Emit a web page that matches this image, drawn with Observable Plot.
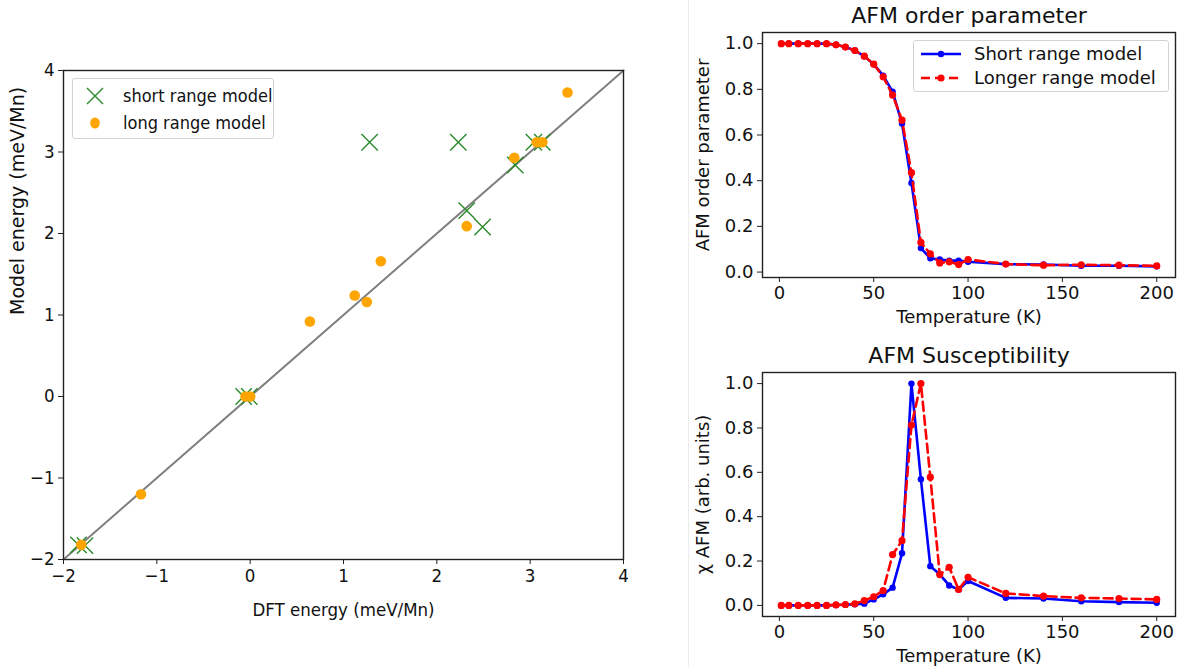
<!DOCTYPE html>
<html><head><meta charset="utf-8">
<script src="https://cdn.jsdelivr.net/npm/d3@7"></script>
<script src="https://cdn.jsdelivr.net/npm/@observablehq/plot@0.6"></script>
<style>
body{margin:0;background:#fff;font-family:"DejaVu Sans",sans-serif;}
#wrap{position:relative;width:1182px;height:667px;overflow:hidden;background:#fff;}
.panel{position:absolute;}
.sep{position:absolute;left:688px;top:0;width:1px;height:667px;background:#ececec;}
.legend{position:absolute;background:rgba(255,255,255,0.85);border:1px solid #d2d2d2;border-radius:3px;box-sizing:border-box;color:#111;}
.legend .item{position:absolute;white-space:nowrap;display:flex;align-items:center;}
.legend svg{position:absolute;overflow:visible;}
</style>
</head><body>
<div id="wrap"><div class="sep"></div></div>
<script>
// ---------- Left panel data (DFT vs model energy) ----------
const shortX = [-1.84, -1.77, -0.07, -0.01, 1.28, 2.23, 3.04, 3.13, 2.84, 2.32, 2.49];
const shortY = [-1.82, -1.83, 0.00, 0.00, 3.12, 3.12, 3.12, 3.12, 2.84, 2.28, 2.08];
const longX = [-1.81, -1.17, -0.05, 0.00, 0.64, 1.12, 1.25, 1.40, 2.32, 2.83, 3.07, 3.13, 3.40];
const longY = [-1.82, -1.20, 0.00, 0.00, 0.92, 1.24, 1.16, 1.66, 2.09, 2.93, 3.12, 3.12, 3.73];
const diagX = [-2, 4];
const energyTicks = [-2, -1, 0, 1, 2, 3, 4];
const scatterLegend = ["short range model", "long range model"];

// ---------- Right panels data ----------
const temps = [1,5,10,15,20,25,30,35,40,45,50,55,60,65,70,75,80,85,90,95,100,120,140,160,180,200];
const orderShort = [1.0,1.0,1.0,1.0,1.0,1.0,0.995,0.985,0.97,0.945,0.91,0.86,0.79,0.65,0.39,0.105,0.06,0.055,0.05,0.05,0.045,0.035,0.033,0.028,0.028,0.025];
const orderLong  = [1.0,1.0,1.0,1.0,1.0,1.0,0.995,0.985,0.97,0.945,0.91,0.855,0.775,0.665,0.435,0.13,0.08,0.04,0.045,0.033,0.055,0.035,0.03,0.032,0.03,0.027];
const susShort = [0,0,0,0,0,0,0.002,0.003,0.005,0.008,0.027,0.05,0.08,0.235,1.0,0.569,0.177,0.14,0.09,0.072,0.11,0.034,0.031,0.019,0.015,0.012];
const susLong  = [0,0,0,0,0,0,0.002,0.004,0.007,0.022,0.039,0.067,0.229,0.292,0.813,1.0,0.578,0.139,0.172,0.072,0.127,0.054,0.042,0.034,0.031,0.027];
const tempTicks = [0, 50, 100, 150, 200];
const fracTicks = [0, 0.2, 0.4, 0.6, 0.8, 1.0];
const lineLegend = ["Short range model", "Longer range model"];

const FONT = "DejaVu Sans";
const FONT_C = "'DejaVu Sans Condensed', 'DejaVu Sans'";
const INK = "#111";
const GREEN = "#2a8a2a";
const ORANGE = "#ffa500";
const BLUE = "#0000ff";
const RED = "#ff0000";

const wrap = document.getElementById("wrap");
function place(el, left, top) {
  const d = document.createElement("div");
  d.className = "panel"; d.style.left = left + "px"; d.style.top = top + "px";
  d.appendChild(el); wrap.appendChild(d);
}

// ---------- Left scatter ----------
const shortPts = shortX.map((x, i) => ({x, y: shortY[i]}));
const longPts = longX.map((x, i) => ({x, y: longY[i]}));
const diag = diagX.map(v => ({x: v, y: v}));

const scatter = Plot.plot({
  width: 688, height: 667,
  marginLeft: 63, marginRight: 65, marginTop: 70, marginBottom: 108,
  style: {fontFamily: FONT_C, fontSize: "18.5px", color: INK, background: "transparent", overflow: "visible"},
  x: {domain: [-2, 4]},
  y: {domain: [-2, 4]},
  marks: [
    Plot.line(diag, {x: "x", y: "y", stroke: "#808080", strokeWidth: 2}),
    Plot.dot(shortPts, {x: "x", y: "y", symbol: "times", r: 7.5, stroke: GREEN, strokeWidth: 1.4}),
    Plot.dot(longPts, {x: "x", y: "y", r: 5.3, fill: ORANGE, stroke: "none"}),
    Plot.frame({stroke: "#222", strokeWidth: 1.4}),
    Plot.axisX({ticks: energyTicks, tickFormat: d3.format("d"), tickSize: 5, tickPadding: 4, stroke: "#222", label: "DFT energy (meV/Mn)", labelAnchor: "center", labelArrow: "none", labelOffset: 56, fontSize: 18.5}),
    Plot.axisY({ticks: energyTicks, tickFormat: d3.format("d"), tickSize: 5, tickPadding: 4, stroke: "#222", label: null, fontSize: 18.5}),
    Plot.text(["Model energy (meV/Mn)"], {text: d => d, frameAnchor: "left", dx: -46, rotate: -90, fontSize: 19, fontFamily: FONT, fill: INK})
  ]
});
place(scatter, 0, 0);

// ---------- Right line panels ----------
function linePanel(title, ylabel, shortVals, longVals, h, mTop, mBottom) {
  const s = temps.map((t, i) => ({t, v: shortVals[i]}));
  const l = temps.map((t, i) => ({t, v: longVals[i]}));
  const ext = d3.extent(shortVals.concat(longVals));
  const pad = (ext[1] - ext[0]) * 0.05;
  return Plot.plot({
    width: 492, height: h,
    marginLeft: 72, marginRight: 7, marginTop: mTop, marginBottom: mBottom,
    style: {fontFamily: FONT, fontSize: "18px", color: INK, background: "transparent", overflow: "visible"},
    x: {domain: [1 - 9.95, 200 + 9.95]},
    y: {domain: [ext[0] - pad, ext[1] + pad]},
    marks: [
      Plot.line(s, {x: "t", y: "v", stroke: BLUE, strokeWidth: 2.6}),
      Plot.dot(s, {x: "t", y: "v", r: 3.2, fill: BLUE}),
      Plot.line(l, {x: "t", y: "v", stroke: RED, strokeWidth: 2.6, strokeDasharray: "9,5"}),
      Plot.dot(l, {x: "t", y: "v", r: 3.6, fill: RED}),
      Plot.frame({stroke: "#222", strokeWidth: 1.4}),
      Plot.axisX({ticks: tempTicks, tickSize: 5, tickPadding: 4, stroke: "#222", label: "Temperature (K)", labelAnchor: "center", labelArrow: "none", labelOffset: 45, fontSize: 18}),
      Plot.axisY({ticks: fracTicks, tickFormat: d3.format(".1f"), tickSize: 5, tickPadding: 4, stroke: "#222", label: ylabel, labelAnchor: "center", labelArrow: "none", labelOffset: 66, fontSize: 18}),
      Plot.text([title], {text: d => d, frameAnchor: "top", dy: -17, lineAnchor: "middle", fontSize: 22, fill: INK})
    ]
  });
}
place(linePanel("AFM order parameter", "AFM order parameter", orderShort, orderLong, 333, 32, 56), 690, 0);
place(linePanel("AFM Susceptibility", "χ AFM (arb. units)", susShort, susLong, 334, 39, 51), 690, 333);

// ---------- Legends (HTML overlays) ----------
function makeLegend(left, top, w, h, fontSize, family, entries) {
  const box = document.createElement("div");
  box.className = "legend";
  Object.assign(box.style, {left: left + "px", top: top + "px", width: w + "px", height: h + "px", fontSize: fontSize + "px", fontFamily: family});
  entries.forEach(e => {
    const sw = d3.create("svg").attr("width", e.sw).attr("height", 20)
      .style("left", e.sx + "px").style("top", (e.cy - 10) + "px");
    e.draw(sw);
    box.appendChild(sw.node());
    const t = document.createElement("div");
    t.className = "item"; t.textContent = e.label;
    Object.assign(t.style, {left: e.tx + "px", top: (e.cy - fontSize * 0.62) + "px", lineHeight: (fontSize * 1.2) + "px"});
    box.appendChild(t);
  });
  wrap.appendChild(box);
}
makeLegend(72, 78, 202, 61, 18, FONT_C, [
  {label: scatterLegend[0], sx: 12, sw: 20, cy: 17, tx: 50, draw: g => {
    g.append("path").attr("d", "M2,2L18,18M18,2L2,18").attr("stroke", GREEN).attr("stroke-width", 1.4).attr("fill", "none");
  }},
  {label: scatterLegend[1], sx: 12, sw: 20, cy: 44, tx: 50, draw: g => {
    g.append("ellipse").attr("cx", 10).attr("cy", 10).attr("rx", 4.8).attr("ry", 5.5).attr("fill", ORANGE);
  }}
]);
makeLegend(913, 40, 256, 52, 18, FONT, [
  {label: lineLegend[0], sx: 6, sw: 42, cy: 13, tx: 60, draw: g => {
    g.append("line").attr("x1", 1).attr("x2", 41).attr("y1", 10).attr("y2", 10).attr("stroke", BLUE).attr("stroke-width", 2.6);
    g.append("circle").attr("cx", 21).attr("cy", 10).attr("r", 3.2).attr("fill", BLUE);
  }},
  {label: lineLegend[1], sx: 6, sw: 42, cy: 37, tx: 60, draw: g => {
    g.append("line").attr("x1", 1).attr("x2", 41).attr("y1", 10).attr("y2", 10).attr("stroke", RED).attr("stroke-width", 2.6).attr("stroke-dasharray", "9,5");
    g.append("circle").attr("cx", 21).attr("cy", 10).attr("r", 3.6).attr("fill", RED);
  }}
]);
</script>
</body></html>
